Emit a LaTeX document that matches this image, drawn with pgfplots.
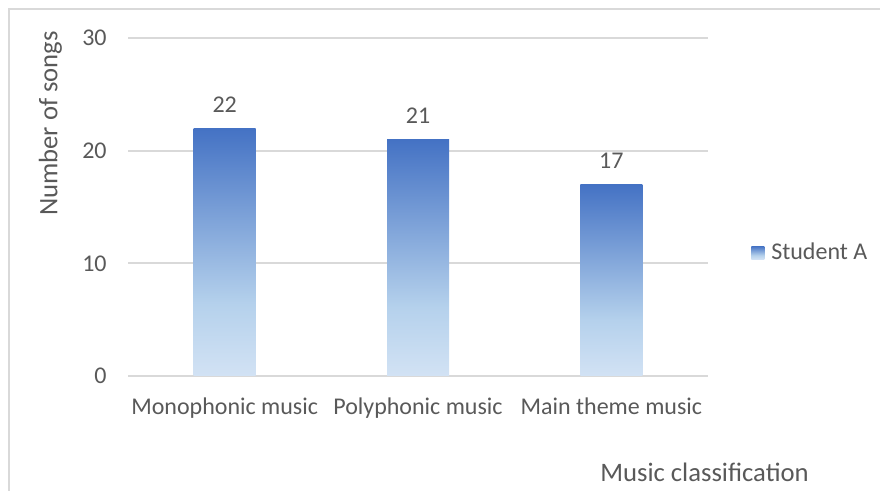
\documentclass[border=0pt]{standalone}
\usepackage{fontspec}
\setmainfont{Carlito}
\usepackage{pgfplots}
\pgfplotsset{compat=1.18}

\definecolor{txtgray}{RGB}{89,89,89}
\definecolor{gridgray}{RGB}{217,217,217}
\definecolor{bartop}{RGB}{68,114,196}
\definecolor{barmid}{RGB}{181,209,236}
\definecolor{barbot}{RGB}{210,226,244}

% dark blue at the top of each bar, fading to pale blue near the base
\pgfdeclareverticalshading{barfade}{100bp}{%
  color(0bp)=(barbot); color(25bp)=(barbot); color(39.5bp)=(barmid);
  color(75bp)=(bartop); color(100bp)=(bartop)}

\begin{document}
\begin{tikzpicture}
\clip (0,0) rectangle (440bp,245.5bp);
\useasboundingbox (0,0) rectangle (440bp,245.5bp);
\begin{axis}[
  at={(64bp,57.5bp)}, anchor=south west,
  scale only axis, width=290bp, height=169bp,
  xmin=-0.5, xmax=2.5, ymin=0, ymax=30,
  clip=false,
  ybar, bar width=31bp, bar shift=0pt,
  xtick={0,1,2},
  xticklabels={Monophonic music, Polyphonic music, Main theme music},
  ytick={0,10,20,30},
  ymajorgrids, grid style={gridgray, line width=1bp},
  axis x line*=bottom, axis y line*=left,
  x axis line style={gridgray, line width=1bp, -},
  y axis line style={draw=none},
  major tick length=0pt, tick style={draw=none},
  font=\fontsize{12bp}{14bp}\selectfont,
  /pgf/number format/assume math mode=true,
  xticklabel style={anchor=base, yshift=-19.5bp, inner sep=0pt, text=txtgray},
  yticklabel style={anchor=east, xshift=-10.5bp, inner sep=0pt, text=txtgray},
  xlabel={Music classification},
  ylabel={Number of songs},
  xlabel style={at={(axis description cs:0.994,-0.3127)}, anchor=base,
    inner sep=0pt, font=\fontsize{13.33bp}{16bp}\selectfont, text=txtgray},
  ylabel style={at={(axis description cs:-0.1219,0.747)}, rotate=0, anchor=base,
    inner sep=0pt, font=\fontsize{13.33bp}{16bp}\selectfont, text=txtgray},
  legend style={draw=none, fill=none, inner sep=0pt,
    at={(axis description cs:1.074,0.365)}, anchor=west,
    font=\fontsize{12bp}{14bp}\selectfont, text=txtgray,
    nodes={inner sep=0pt},
    /tikz/every odd column/.append style={column sep=3.5bp}},
  legend image code/.code={%
    \shade[shading=barfade] (0bp,-3.25bp) rectangle (6.5bp,3.25bp);},
  nodes near coords,
  every node near coord/.append style={anchor=base, yshift=8bp, inner sep=0pt,
    text=txtgray, font=\fontsize{12bp}{14bp}\selectfont},
]
% one plot per bar so that each bar carries its own gradient
\addplot[draw=none, shading=barfade] coordinates {(0,22)};
\addlegendentry{Student A}
\addplot[draw=none, shading=barfade, forget plot] coordinates {(1,21)};
\addplot[draw=none, shading=barfade, forget plot] coordinates {(2,17)};
\end{axis}
% chart area border
\draw[gridgray, line width=1bp] (4.5bp,-10bp) -- (4.5bp,241bp) -- (460bp,241bp);
\end{tikzpicture}
\end{document}
